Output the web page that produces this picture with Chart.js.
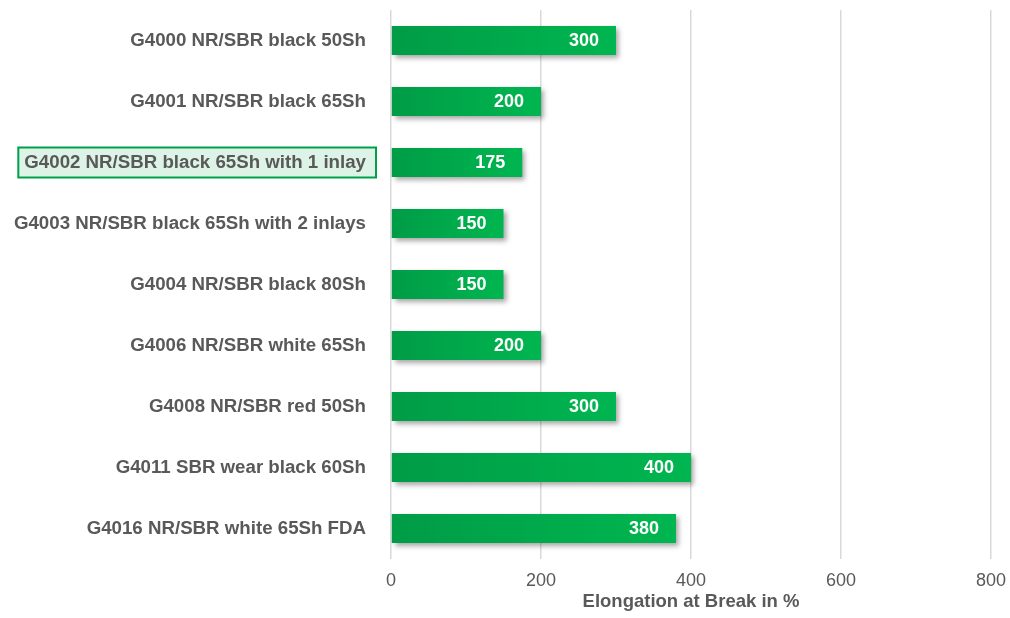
<!DOCTYPE html>
<html>
<head>
<meta charset="utf-8">
<script src="https://cdn.jsdelivr.net/npm/chart.js@4"></script>
<style>
  html, body { margin: 0; padding: 0; background: #fff; }
  #wrap { width: 1010px; height: 618px; }
</style>
</head>
<body>
<div id="wrap"><canvas id="myChart"></canvas></div>
<script>
const categories = [
  "G4000 NR/SBR black 50Sh",
  "G4001 NR/SBR black 65Sh",
  "G4002 NR/SBR black 65Sh with 1 inlay",
  "G4003 NR/SBR black 65Sh with 2 inlays",
  "G4004 NR/SBR black 80Sh",
  "G4006 NR/SBR white 65Sh",
  "G4008 NR/SBR red 50Sh",
  "G4011 SBR wear black 60Sh",
  "G4016 NR/SBR white 65Sh FDA"
];
const elongation = [300, 200, 175, 150, 150, 200, 300, 400, 380];
const xTicks = [0, 200, 400, 600, 800];
const highlighted = 2;

const fontFamily = "'Liberation Sans', Arial, sans-serif";
const labelFont = "bold 18.7px " + fontFamily;

// gradient per bar, dark at the base and lighter at the end
function barColor(ctx) {
  let chart = ctx.chart;
  let x = chart.scales.x;
  if (!chart.chartArea || !x) return "#00a94b";
  let x0 = x.getPixelForValue(0);
  let x1 = x.getPixelForValue(ctx.raw);
  if (x1 - x0 < 1) return "#00a94b";
  let g = chart.ctx.createLinearGradient(x0, 0, x1, 0);
  g.addColorStop(0, "#009c46");
  g.addColorStop(1, "#00b650");
  return g;
}

const highlightBox = {
  id: "highlightBox",
  beforeDraw(chart) {
    let y = chart.scales.y;
    let ctx = chart.ctx;
    let cy = y.getPixelForValue(highlighted);
    ctx.save();
    ctx.font = labelFont;
    let w = ctx.measureText(categories[highlighted]).width;
    let textRight = y.right - 25;
    let right = textRight + 10;
    let left = textRight - w - 6;
    ctx.fillStyle = "#dcf3e5";
    ctx.strokeStyle = "#00a04b";
    ctx.lineWidth = 2;
    ctx.fillRect(left, cy - 15, right - left, 30);
    ctx.strokeRect(left, cy - 15, right - left, 30);
    ctx.restore();
  }
};

const barShadow = {
  id: "barShadow",
  beforeDatasetDraw(chart) {
    let ctx = chart.ctx;
    ctx.save();
    ctx.shadowColor = "rgba(0,0,0,0.35)";
    ctx.shadowBlur = 5;
    ctx.shadowOffsetX = 3;
    ctx.shadowOffsetY = 3;
  },
  afterDatasetDraw(chart) {
    chart.ctx.restore();
  }
};

const valueLabels = {
  id: "valueLabels",
  afterDatasetsDraw(chart) {
    let ctx = chart.ctx;
    let meta = chart.getDatasetMeta(0);
    ctx.save();
    ctx.font = "bold 18px " + fontFamily;
    ctx.fillStyle = "#ffffff";
    ctx.textAlign = "right";
    ctx.textBaseline = "middle";
    meta.data.forEach((bar, i) => {
      ctx.fillText(String(elongation[i]), bar.x - 17, bar.y + 1);
    });
    ctx.restore();
  }
};

let ctx = document.getElementById("myChart").getContext("2d");
let myChart = new Chart(ctx, {
  type: "bar",
  data: {
    labels: categories,
    datasets: [
      {
        label: "Elongation at Break in %",
        data: elongation,
        backgroundColor: barColor,
        borderWidth: 0,
        categoryPercentage: 1,
        barPercentage: 0.475,
      },
    ],
  },
  options: {
    indexAxis: "y",
    responsive: true,
    maintainAspectRatio: false,
    animation: false,
    layout: { padding: { top: 10, right: 19, bottom: 0, left: 0 } },
    plugins: {
      legend: { display: false },
      tooltip: { enabled: false },
    },
    scales: {
      x: {
        min: 0,
        max: 800,
        afterBuildTicks(scale) {
          scale.ticks = xTicks.map((v) => ({ value: v }));
        },
        afterFit(scale) {
          scale.height = 59;
          scale.paddingLeft = 0;
          scale.paddingRight = 0;
        },
        grid: { color: "#d9d9d9", lineWidth: 1.5, drawTicks: false },
        border: { display: false },
        ticks: {
          padding: 11,
          color: "#595959",
          font: { family: fontFamily, size: 18 },
        },
        title: {
          display: true,
          text: "Elongation at Break in %",
          color: "#595959",
          padding: { top: 0, bottom: 5 },
          font: { family: fontFamily, size: 18.5, weight: "bold" },
        },
      },
      y: {
        afterFit(scale) {
          scale.width = 391;
          scale.paddingTop = 0;
          scale.paddingBottom = 0;
        },
        grid: { display: false, drawTicks: false },
        border: { display: false },
        ticks: {
          padding: 25,
          color: "#595959",
          font: { family: fontFamily, size: 18.7, weight: "bold" },
        },
      },
    },
  },
  plugins: [highlightBox, barShadow, valueLabels],
});
</script>
</body>
</html>
